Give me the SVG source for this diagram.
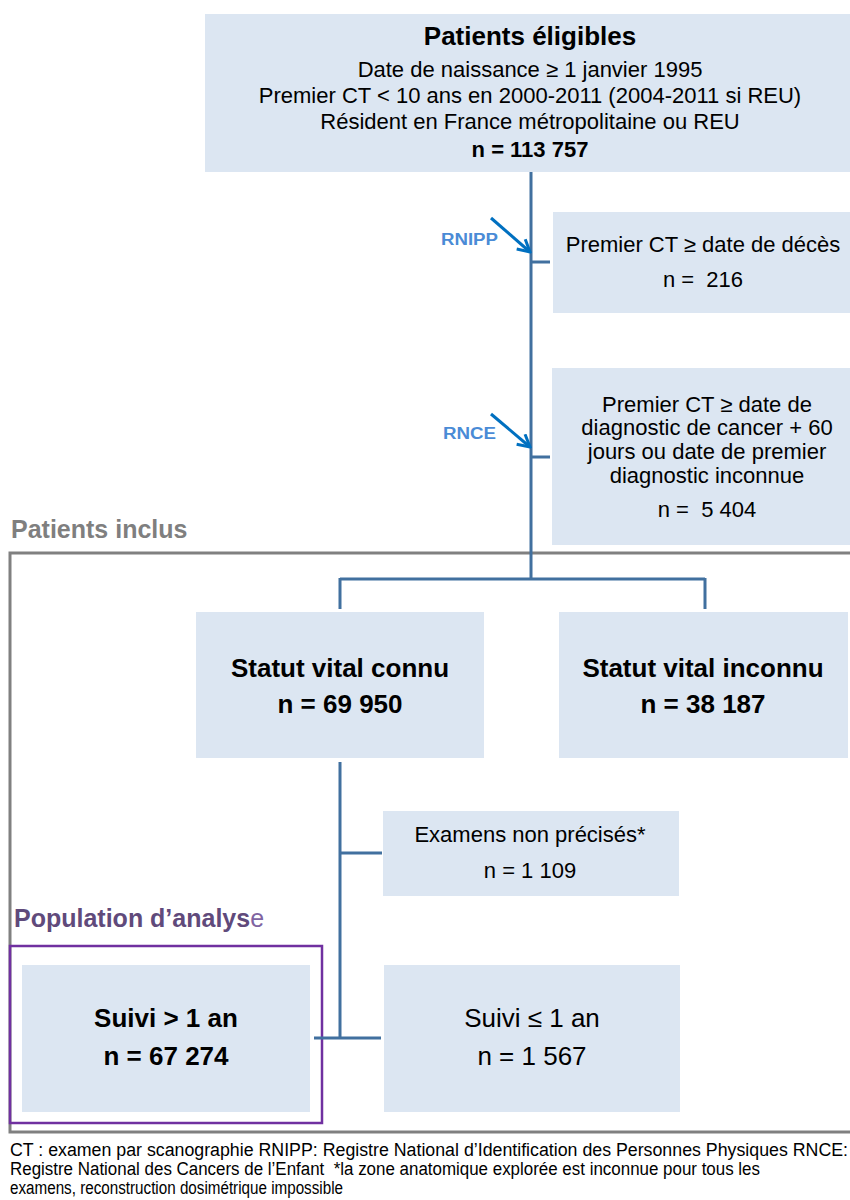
<svg xmlns="http://www.w3.org/2000/svg" width="850" height="1200" viewBox="0 0 850 1200">
<style>
text{font-family:"Liberation Sans",Arial,sans-serif;fill:#000}
.box{fill:#dce6f2}
.t22{font-size:22px;text-anchor:middle}
.b26{font-size:26px;font-weight:bold;text-anchor:middle}
.r26{font-size:26px;text-anchor:middle}
.conn{stroke:#41709f;stroke-width:3;fill:none}
.arr{stroke:#0070c0;stroke-width:3;fill:none}
.lab{font-size:16px;font-weight:bold;fill:#4a8bd6}
.foot{font-size:18px}
</style>
<defs>
<marker id="ah" markerUnits="userSpaceOnUse" viewBox="0 0 16 16" refX="14" refY="8" markerWidth="16" markerHeight="16" orient="auto">
<path d="M2,1.5 L14,8 L2,14.5" fill="none" stroke="#0070c0" stroke-width="3"/>
</marker>
</defs>
<rect x="10" y="553" width="860" height="579" fill="none" stroke="#808080" stroke-width="3"/>
<text x="11" y="538" style="font-size:25px;font-weight:bold;fill:#7f7f7f">Patients inclus</text>
<rect x="10" y="946" width="312" height="177" fill="none" stroke="#7030a0" stroke-width="2.5"/>
<text x="14" y="927" style="font-size:25px;font-weight:bold;fill:#604a7b">Population d’analys<tspan style="font-weight:normal;fill:#8064a2">e</tspan></text>
<g id="connectors">
<path class="conn" d="M531,172 V579 M531,262 H550 M531,457 H550 M340,579 H705 M340,578 V609 M705,578 V609 M340,762 V1038 M340,853 H382 M314,1038 H381"/>
<line class="arr" x1="491" y1="218" x2="530" y2="252" marker-end="url(#ah)"/>
<line class="arr" x1="491" y1="414" x2="530" y2="447" marker-end="url(#ah)"/>
<text class="lab" x="441" y="245" textLength="57" lengthAdjust="spacingAndGlyphs">RNIPP</text>
<text class="lab" x="443" y="439" textLength="53" lengthAdjust="spacingAndGlyphs">RNCE</text>
</g>
<g id="eligibles">
<rect class="box" x="205" y="14" width="660" height="158"/>
<text class="b26" x="530" y="45">Patients éligibles</text>
<text class="t22" x="530" y="77">Date de naissance ≥ 1 janvier 1995</text>
<text class="t22" x="530" y="103">Premier CT &lt; 10 ans en 2000-2011 (2004-2011 si REU)</text>
<text class="t22" x="530" y="129">Résident en France métropolitaine ou REU</text>
<text class="t22" x="530" y="157" font-weight="bold">n = 113 757</text>
</g>
<g id="deces">
<rect class="box" x="553" y="212" width="310" height="101"/>
<text class="t22" x="703" y="252">Premier CT ≥ date de décès</text>
<text class="t22" x="703" y="287" xml:space="preserve">n =  216</text>
</g>
<g id="cancer">
<rect class="box" x="552" y="368" width="310" height="177"/>
<text class="t22" x="707" y="412">Premier CT ≥ date de</text>
<text class="t22" x="707" y="435">diagnostic de cancer + 60</text>
<text class="t22" x="707" y="459">jours ou date de premier</text>
<text class="t22" x="707" y="483">diagnostic inconnue</text>
<text class="t22" x="707" y="517" xml:space="preserve">n =  5 404</text>
</g>
<g id="connu">
<rect class="box" x="196" y="612" width="288" height="146"/>
<text class="b26" x="340" y="677">Statut vital connu</text>
<text class="b26" x="340" y="713">n = 69 950</text>
</g>
<g id="inconnu">
<rect class="box" x="559" y="612" width="289" height="146"/>
<text class="b26" x="703" y="677">Statut vital inconnu</text>
<text class="b26" x="703" y="713">n = 38 187</text>
</g>
<g id="examens">
<rect class="box" x="383" y="811" width="296" height="85"/>
<text class="t22" x="530" y="842">Examens non précisés*</text>
<text class="t22" x="530" y="878">n = 1 109</text>
</g>
<g id="suivi-plus">
<rect class="box" x="22" y="965" width="288" height="147"/>
<text class="b26" x="166" y="1027">Suivi &gt; 1 an</text>
<text class="b26" x="166" y="1065">n = 67 274</text>
</g>
<g id="suivi-moins">
<rect class="box" x="384" y="965" width="296" height="147"/>
<text class="r26" x="532" y="1027">Suivi ≤ 1 an</text>
<text class="r26" x="532" y="1065">n = 1 567</text>
</g>
<g id="footer">
<text class="foot" x="10" y="1156" textLength="838" lengthAdjust="spacingAndGlyphs">CT : examen par scanographie RNIPP: Registre National d’Identification des Personnes Physiques RNCE:</text>
<text class="foot" x="10" y="1175" xml:space="preserve" textLength="750" lengthAdjust="spacingAndGlyphs">Registre National des Cancers de l’Enfant  *la zone anatomique explorée est inconnue pour tous les</text>
<text class="foot" x="10" y="1194" textLength="333" lengthAdjust="spacingAndGlyphs">examens, reconstruction dosimétrique impossible</text>
</g>
</svg>
